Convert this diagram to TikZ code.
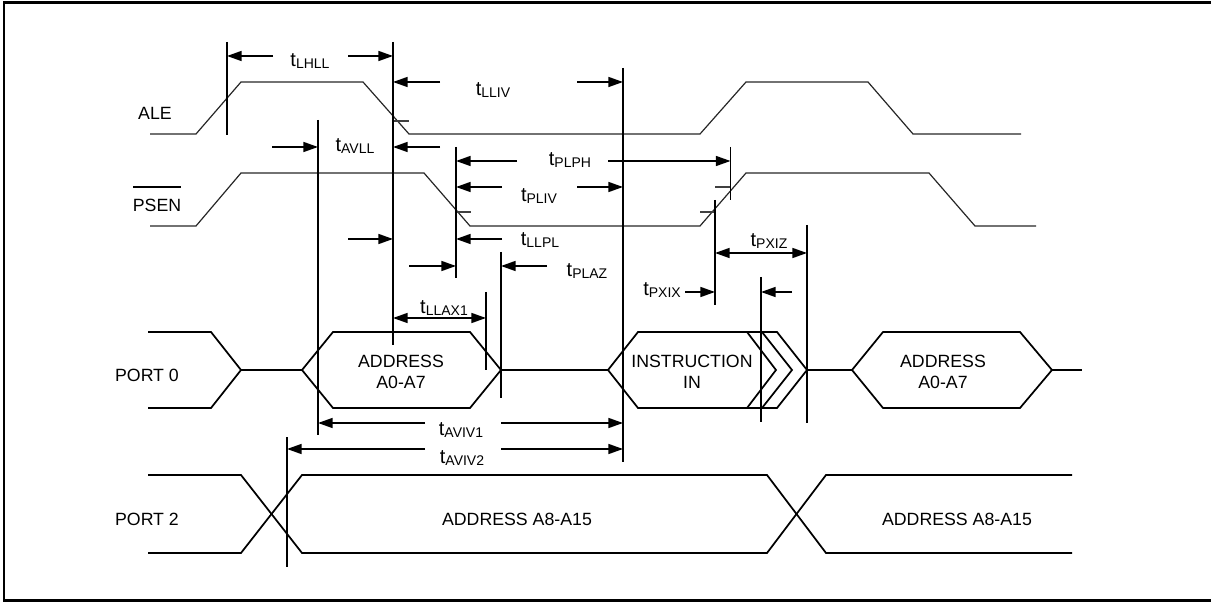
\documentclass[tikz,border=0pt]{standalone}
\usepackage{fontspec}
\setmainfont{Liberation Sans}
\usetikzlibrary{arrows.meta}
\newcommand\tsig[1]{{\fontsize{15}{16}\selectfont t}\raisebox{-2pt}{\fontsize{10.5}{12}\selectfont #1}}
\begin{document}
\begin{tikzpicture}[x=0.75pt,y=-0.75pt,
  wave/.style={line width=0.9pt,draw=black!85,line join=miter},
  bus/.style={line width=1.3pt,line join=miter},
  vline/.style={line width=1.4pt},
  tick/.style={line width=0.8pt,draw=black!75},
  arr/.style={line width=1.2pt,-{Triangle[length=11pt,width=7.5pt]}},
  darr/.style={line width=1.2pt,{Triangle[length=11pt,width=7.5pt]}-{Triangle[length=11pt,width=7.5pt]}},
  sig/.style={inner sep=0pt,font=\fontsize{13.3}{15}\selectfont},
  txt/.style={inner sep=0pt,align=center,font=\fontsize{13.3}{15.75}\selectfont},
  tlab/.style={inner sep=0pt}]
\useasboundingbox (0,0) rectangle (1211,602);
\draw[line width=1.6pt] (1212,2.5) -- (4,2.5) -- (4,600.5) -- (1212,600.5);

% signal names
\node[sig] (ale) at (155,113) {ALE};
\node[sig] (psen) at (157,205) {PSEN};
\draw[line width=0.8pt] (133,187) -- (181,187);
\node[sig] (p0) at (147,375) {PORT 0};
\node[sig] (p2) at (147,519) {PORT 2};

% ALE
\draw[wave] (150,134) -- (196,134) -- (241,82) -- (363,82) -- (409,134) -- (700,134) -- (746,82) -- (868,82) -- (913,134) -- (1021,134);
% PSEN
\draw[wave] (150,226) -- (196,226) -- (241,173) -- (424,173) -- (470,226) -- (700,226) -- (746,173) -- (929,173) -- (975,226) -- (1036,226);

% ticks
\draw[tick] (394,121) -- (409,121);
\draw[tick] (456,212) -- (471,212);
\draw[tick] (715,187) -- (731,187);
\draw[tick] (700,212) -- (715,212);

% PORT 0
\draw[bus] (148,332) -- (211,332) -- (241,370) -- (211,408) -- (148,408);
\draw[bus] (241,370) -- (302,370);
\draw[bus] (302,370) -- (333,332) -- (470,332) -- (501,370) -- (470,408) -- (333,408) -- cycle;
\draw[bus] (501,370) -- (608,370);
\draw[bus] (608,370) -- (638,332) -- (777,332) -- (807,370) -- (777,408) -- (638,408) -- cycle;
\draw[bus] (747,332) -- (776,370) -- (747,408);
\draw[bus] (762,332) -- (792,370) -- (762,408);
\draw[bus] (807,370) -- (852,370);
\draw[bus] (852,370) -- (883,332) -- (1020,332) -- (1052,370) -- (1020,408) -- (883,408) -- cycle;
\draw[bus] (1052,370) -- (1082,370);
\node[txt] (h1) at (401,372) {ADDRESS\\A0-A7};
\node[txt] (h2) at (692,372) {INSTRUCTION\\IN};
\node[txt] (h3) at (943,372) {ADDRESS\\A0-A7};

% PORT 2
\draw[bus] (148,475) -- (241,475) -- (302,553) -- (767,553) -- (826,475) -- (1072,475);
\draw[bus] (148,553) -- (241,553) -- (302,475) -- (767,475) -- (826,553) -- (1072,553);
\node[txt] (a1) at (517,519) {ADDRESS A8-A15};
\node[txt] (a2) at (957,519) {ADDRESS A8-A15};

% timing verticals
\coordinate (v1t) at (227,42);  \coordinate (v1b) at (227,135);
\coordinate (v2t) at (393,42);  \coordinate (v2b) at (393,345);
\coordinate (v3t) at (623,68);  \coordinate (v3b) at (623,462);
\coordinate (v4t) at (318,120); \coordinate (v4b) at (318,435);
\coordinate (v5t) at (456,147); \coordinate (v5b) at (456,278);
\coordinate (v6t) at (501,252); \coordinate (v6b) at (501,398);
\coordinate (v7t) at (730.5,147); \coordinate (v7b) at (730.5,200);
\coordinate (v8t) at (715,200); \coordinate (v8b) at (715,305);
\coordinate (v9t) at (807,225); \coordinate (v9b) at (807,423);
\coordinate (v10t) at (761,277); \coordinate (v10b) at (761,422);
\coordinate (v11t) at (486,292); \coordinate (v11b) at (486,370);
\coordinate (v12t) at (287,437); \coordinate (v12b) at (287,567);
\foreach \v in {1,...,12} \draw[vline] (v\v t) -- (v\v b);

% tLHLL
\draw[arr] (273,56) -- (227,56);
\draw[arr] (348,56) -- (393,56);
\node[tlab] at (310,61) {\tsig{LHLL}};
% tLLIV
\draw[arr] (440,82) -- (393,82);
\draw[arr] (577,82) -- (623,82);
\node[tlab] at (493,90) {\tsig{LLIV}};
% tAVLL
\draw[arr] (272,147) -- (318,147);
\draw[arr] (440,147) -- (393,147);
\node[tlab] at (355,146) {\tsig{AVLL}};
% tPLPH
\draw[arr] (517,161) -- (456,161);
\draw[arr] (608,161) -- (730.5,161);
\node[tlab] at (570,160) {\tsig{PLPH}};
% tPLIV
\draw[arr] (502,187) -- (456,187);
\draw[arr] (577,187) -- (623,187);
\node[tlab] at (539,196) {\tsig{PLIV}};
% tLLPL
\draw[arr] (348,239) -- (393,239);
\draw[arr] (502,239) -- (456,239);
\node[tlab] at (540,240) {\tsig{LLPL}};
% tPLAZ
\draw[arr] (409,266) -- (456,266);
\draw[arr] (547,266) -- (501,266);
\node[tlab] at (587,271) {\tsig{PLAZ}};
% tLLAX1
\draw[darr] (393,318) -- (486,318);
\node[tlab] at (444,308) {\tsig{LLAX1}};
% tPXIZ
\draw[darr] (715,253) -- (807,253);
\node[tlab] at (769,241) {\tsig{PXIZ}};
% tPXIX
\draw[arr] (685,292) -- (715,292);
\node[tlab] at (662,290) {\tsig{PXIX}};
\draw[arr] (792,292) -- (761,292);
% tAVIV1
\draw[arr] (425,423) -- (318,423);
\draw[arr] (501,423) -- (623,423);
\node[tlab] at (461,430) {\tsig{AVIV1}};
% tAVIV2
\draw[arr] (425,449) -- (287,449);
\draw[arr] (501,449) -- (623,449);
\node[tlab] at (462,458) {\tsig{AVIV2}};
\end{tikzpicture}
\end{document}
